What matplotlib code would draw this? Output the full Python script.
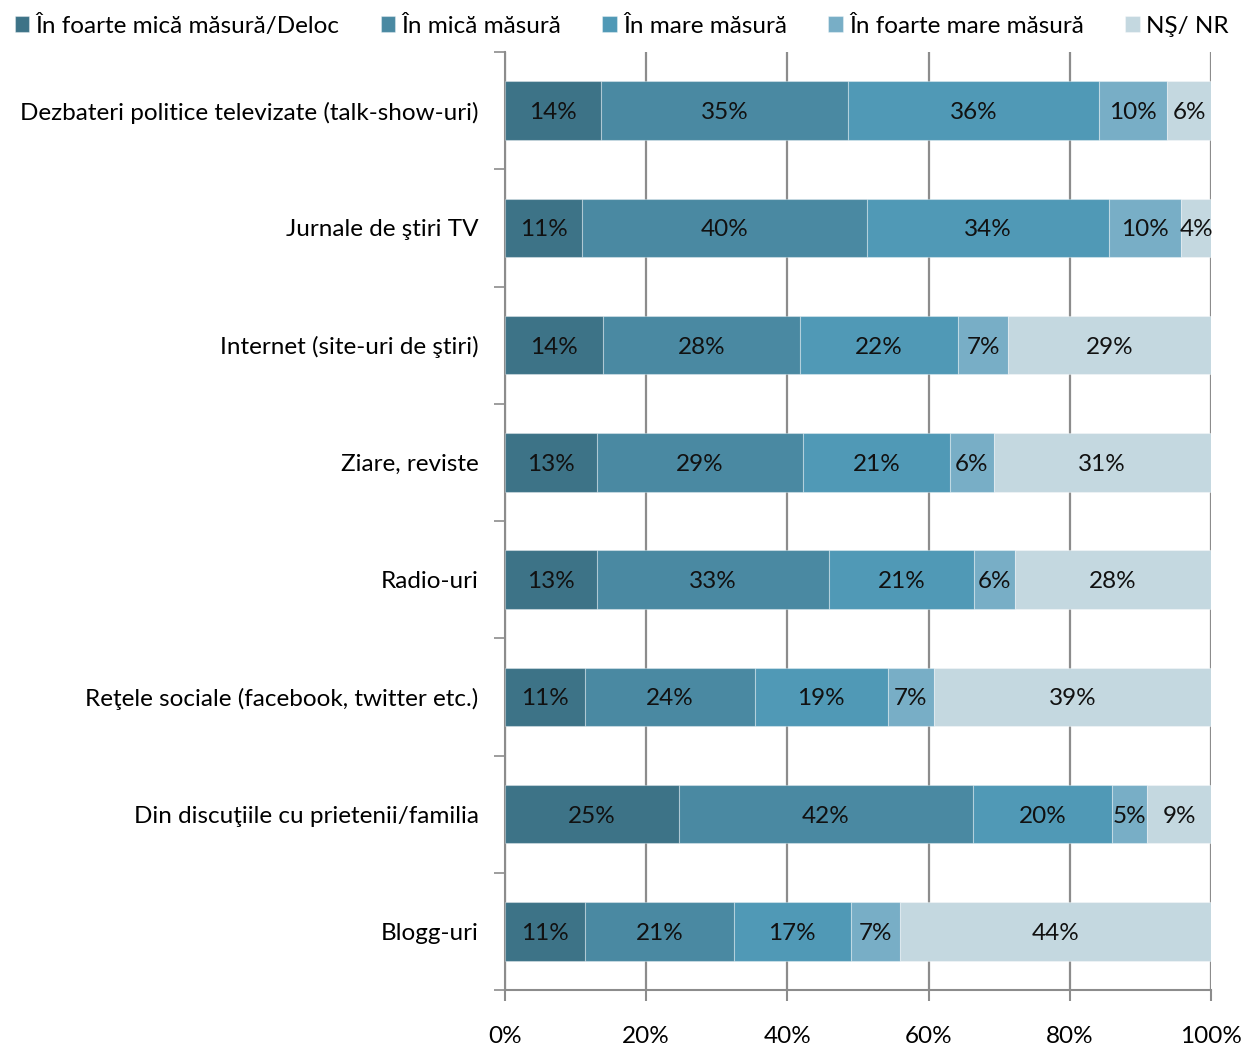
import matplotlib
matplotlib.use("Agg")
import matplotlib.pyplot as plt
import numpy as np

categories = [
    "Dezbateri politice televizate (talk-show-uri)",
    "Jurnale de ştiri TV",
    "Internet (site-uri de ştiri)",
    "Ziare, reviste",
    "Radio-uri",
    "Reţele sociale (facebook, twitter etc.)",
    "Din discuţiile cu prietenii/familia",
    "Blogg-uri",
]
series_names = [
    "În foarte mică măsură/Deloc",
    "În mică măsură",
    "În mare măsură",
    "În foarte mare măsură",
    "NŞ/ NR",
]
v_foarte_mica = [13.6, 10.9, 13.9, 13.0, 13.0, 11.3, 24.6, 11.3]
v_mica        = [35.0, 40.4, 27.9, 29.2, 32.9, 24.1, 41.7, 21.1]
v_mare        = [35.6, 34.3, 22.4, 20.8, 20.6, 18.8, 19.7, 16.6]
v_foarte_mare = [9.6, 10.2, 7.1, 6.2, 5.7, 6.6, 5.0, 6.9]
v_ns_nr       = [6.2, 4.2, 28.7, 30.8, 27.8, 39.2, 9.0, 44.1]
x_ticklabels = ["0%", "20%", "40%", "60%", "80%", "100%"]

colors = ["#3D7387", "#4A89A2", "#5099B6", "#78AEC6", "#C4D8E0"]

plt.rcParams['font.family'] = ['Lato', 'DejaVu Sans']
FS = 17.5

fig = plt.figure(figsize=(12.44, 10.45), dpi=100)
ax = fig.add_axes([505/1244, 1-990/1045, (1211-505)/1244, (990-52)/1045])

data = [v_foarte_mica, v_mica, v_mare, v_foarte_mare, v_ns_nr]
y = np.arange(len(categories))
left = np.zeros(len(categories))
for vals, col, name in zip(data, colors, series_names):
    vals = np.array(vals)
    ax.barh(y, vals, left=left, height=0.5, color=col,
            edgecolor=(1, 1, 1, 0.35), linewidth=0.8, label=name, zorder=3)
    for yi, l, v in zip(y, left, vals):
        ax.text(l + v / 2, yi, f"{round(v)}%", ha="center", va="center_baseline",
                fontsize=FS, color="#111111", zorder=4)
    left += vals

ax.set_xlim(0, 100)
ax.set_ylim(len(categories) - 0.5, -0.5)
ax.set_xticks(np.arange(0, 101, 20))
ax.set_xticklabels(x_ticklabels, fontsize=FS)
ax.set_yticks(y)
ax.set_yticklabels(categories, fontsize=FS)
ax.tick_params(axis="y", length=0, pad=19)
ax.set_yticks(np.arange(-0.5, len(categories)), minor=True)
ax.tick_params(axis="y", which="minor", length=8, color="#8c8c8c", width=1.2)
ax.tick_params(axis="x", length=8, color="#8c8c8c", width=1.5, pad=18)
ax.xaxis.grid(True, color="#8c8c8c", linewidth=1.6, zorder=0)
ax.set_axisbelow(True)
for s in ["top", "right"]:
    ax.spines[s].set_visible(False)
for s in ["left", "bottom"]:
    ax.spines[s].set_color("#8c8c8c")
    ax.spines[s].set_linewidth(1.5)

handles, labels = ax.get_legend_handles_labels()
fig.legend(handles, labels, loc="upper left", bbox_to_anchor=(0.0, 1.0),
           ncol=5, frameon=False, fontsize=FS, handlelength=0.6, handleheight=0.6,
           handletextpad=0.25, columnspacing=1.7, borderaxespad=0.2)

fig.savefig("out.png", dpi=100)
